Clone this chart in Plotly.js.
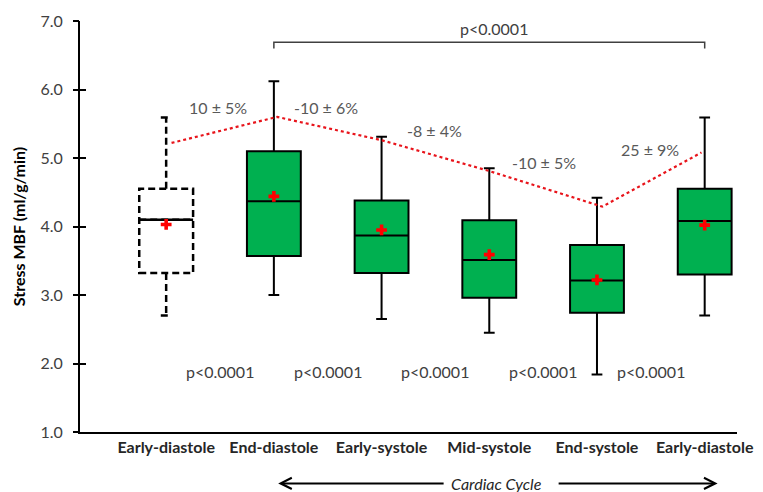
<!DOCTYPE html>
<html>
<head>
<meta charset="utf-8">
<script src="https://cdn.plot.ly/plotly-3.0.1.min.js"></script>
<style>html,body{margin:0;padding:0;background:#fff;}#chart{width:763px;height:492px;}</style>
</head>
<body>
<div id="chart"></div>
<script>
// ---- data ----
var phases = ["Early-diastole", "End-diastole", "Early-systole", "Mid-systole", "End-systole", "Early-diastole"];
var positions = [0, 1, 2, 3, 4, 5];
var lowerWhisker = [2.70, 3.00, 2.65, 2.45, 1.84, 2.70];
var q1 = [3.32, 3.57, 3.32, 2.96, 2.74, 3.30];
var median = [4.10, 4.37, 3.87, 3.51, 3.21, 4.08];
var q3 = [4.55, 5.10, 4.38, 4.09, 3.73, 4.55];
var upperWhisker = [5.59, 6.12, 5.31, 4.85, 4.42, 5.59];
var meanMBF = [4.03, 4.44, 3.95, 3.59, 3.22, 4.02];
var trendX = [0.05, 1.03, 2.0, 3.0, 4.05, 4.97];
var trendY = [5.22, 5.60, 5.26, 4.81, 4.29, 5.08];
var changeLabels = ["10 ± 5%", "-10 ± 6%", "-8 ± 4%", "-10 ± 5%", "25 ± 9%"];
var pairP = ["p<0.0001", "p<0.0001", "p<0.0001", "p<0.0001", "p<0.0001"];
var overallP = "p<0.0001";

var FONT = "Lato, 'Open Sans', sans-serif";
var refIdx = [0];
var cycIdx = [1, 2, 3, 4, 5];
function pick(arr, idx) { return idx.map(function (i) { return arr[i]; }); }

var traces = [
  { // reference early-diastole box (dashed outline)
    type: "box", x: pick(positions, refIdx),
    q1: pick(q1, refIdx), median: pick(median, refIdx), q3: pick(q3, refIdx),
    lowerfence: pick(lowerWhisker, refIdx), upperfence: pick(upperWhisker, refIdx),
    width: 0.5, whiskerwidth: 0.2, boxpoints: false,
    fillcolor: "rgba(255,255,255,0)", line: { color: "#000000", width: 2.5 },
    showlegend: false, hoverinfo: "y"
  },
  {
    type: "box", x: pick(positions, cycIdx),
    q1: pick(q1, cycIdx), median: pick(median, cycIdx), q3: pick(q3, cycIdx),
    lowerfence: pick(lowerWhisker, cycIdx), upperfence: pick(upperWhisker, cycIdx),
    width: 0.5, whiskerwidth: 0.2, boxpoints: false,
    fillcolor: "#00B050", line: { color: "#000000", width: 2 },
    showlegend: false, hoverinfo: "y"
  },
  { // solid median for the dashed box
    type: "scatter", mode: "markers", x: pick(positions, refIdx), y: pick(median, refIdx),
    marker: { symbol: "line-ew", size: 38.5, line: { color: "#000000", width: 2.5 } },
    showlegend: false, hoverinfo: "skip"
  },
  {
    type: "scatter", mode: "lines", x: trendX, y: trendY,
    line: { color: "#E8141B", width: 2.2, dash: "dot" },
    showlegend: false, hoverinfo: "skip"
  },
  {
    type: "scatter", mode: "markers", x: positions, y: meanMBF,
    marker: { symbol: "cross", size: 9, color: "#FF0000", line: { width: 0 } },
    showlegend: false, hoverinfo: "y"
  }
];

var changePos = [[0.48, 5.73], [1.48, 5.74], [2.49, 5.40], [3.51, 4.93], [4.49, 5.13]];
var annotations = [];
changeLabels.forEach(function (t, i) {
  annotations.push({ x: changePos[i][0], y: changePos[i][1], xref: "x", yref: "y", text: t, showarrow: false,
    font: { family: FONT, size: 16, color: "#595959" } });
});
pairP.forEach(function (t, i) {
  annotations.push({ x: i + 0.5, y: 1.88, xref: "x", yref: "y", text: t, showarrow: false,
    font: { family: FONT, size: 16, color: "#404040" } });
});
annotations.push({ x: 3.04, y: 6.89, xref: "x", yref: "y", text: overallP, showarrow: false,
  font: { family: FONT, size: 16, color: "#404040" } });
// Cardiac cycle arrows and label
annotations.push({ x: 3.07, y: -0.125, xref: "x", yref: "paper", yanchor: "middle", xanchor: "center",
  text: "<i>Cardiac Cycle</i>", showarrow: false,
  font: { family: FONT, size: 16, color: "#262626" } });
annotations.push({ x: 1.04, y: -0.125, xref: "x", yref: "paper", axref: "x", ayref: "pixel", ax: 2.59, ay: 0,
  text: "", showarrow: true, arrowhead: 5, arrowsize: 1.1, arrowwidth: 2, arrowcolor: "#000000" });
annotations.push({ x: 5.12, y: -0.125, xref: "x", yref: "paper", axref: "x", ayref: "pixel", ax: 3.63, ay: 0,
  text: "", showarrow: true, arrowhead: 5, arrowsize: 1.1, arrowwidth: 2, arrowcolor: "#000000" });

var yTicks = [1, 2, 3, 4, 5, 6, 7];
var layout = {
  width: 763, height: 492,
  margin: { l: 80, r: 26, t: 21, b: 60 },
  paper_bgcolor: "#ffffff", plot_bgcolor: "#ffffff",
  showlegend: false,
  font: { family: FONT, color: "#404040" },
  xaxis: {
    range: [-0.8, 5.3], tickmode: "array", tickvals: positions, ticktext: phases,
    showgrid: false, zeroline: false, showline: true, linecolor: "#000000", linewidth: 1.5,
    ticks: "", tickfont: { family: FONT, size: 16, color: "#262626", weight: "bold" },
    fixedrange: true
  },
  yaxis: {
    range: [1, 7], tickmode: "array", tickvals: yTicks, tickformat: ".1f",
    showgrid: false, zeroline: false, showline: true, linecolor: "#000000", linewidth: 2,
    ticks: "inside", ticklen: 6, tickwidth: 2, tickcolor: "#000000", ticklabelstandoff: 12,
    tickfont: { family: FONT, size: 16, color: "#404040" },
    title: { text: "Stress MBF (ml/g/min)", font: { family: FONT, size: 16, color: "#000000", weight: "bold" }, standoff: 11 },
    fixedrange: true
  },
  yaxis2: {
    range: [1, 7], overlaying: "y", side: "left", tickmode: "array", tickvals: yTicks,
    showticklabels: false, showgrid: false, zeroline: false, showline: false,
    ticks: "outside", ticklen: 6, tickwidth: 2, tickcolor: "#000000", fixedrange: true
  },
  shapes: [
    { type: "path", xref: "x", yref: "y", path: "M1,6.6 L1,6.69 L5,6.69 L5,6.6",
      line: { color: "#404040", width: 1.5 } }
  ],
  annotations: annotations
};

// invisible trace so the overlay axis (outer half of the crossing ticks) is drawn
traces.push({ type: "scatter", x: [0], y: [1], yaxis: "y2", mode: "markers", marker: { opacity: 0 }, showlegend: false, hoverinfo: "skip" });

Plotly.newPlot("chart", traces, layout, { displayModeBar: false, staticPlot: true }).then(function (gd) {
  var groups = gd.querySelectorAll(".boxlayer .trace");
  if (groups.length) {
    groups[0].querySelectorAll("path").forEach(function (p) {
      p.style.strokeDasharray = "7px,4px";
    });
  }
});
</script>
</body>
</html>
